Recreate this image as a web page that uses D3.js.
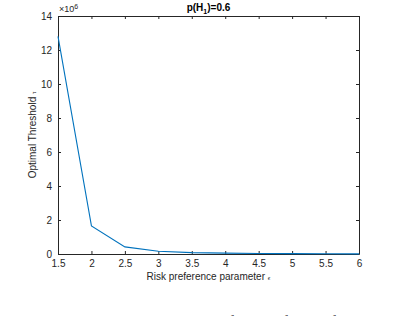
<!DOCTYPE html>
<html>
<head>
<meta charset="utf-8">
<script src="https://cdn.jsdelivr.net/npm/d3@7"></script>
<style>
  body { margin: 0; background: #fff; }
  svg { display: block; font-family: "Liberation Sans", Arial, sans-serif; }
  .axis text { font-size: 10px; fill: #262626; }
  .axis path, .axis line { stroke: #262626; }
</style>
</head>
<body>
<svg id="chart" width="394" height="316"></svg>
<script>
/* ==== Data ==== */
var riskParam = [1.5, 2, 2.5, 3, 3.5, 4, 4.5, 5, 5.5, 6];
var thresholdE6 = [12.8, 1.65, 0.42, 0.16, 0.08, 0.05, 0.03, 0.02, 0.015, 0.01];
var xTicks = [1.5, 2, 2.5, 3, 3.5, 4, 4.5, 5, 5.5, 6];
var yTicks = [0, 2, 4, 6, 8, 10, 12, 14];

/* ==== Layout ==== */
var LEFT = 58, RIGHT = 359, TOP = 16, BOTTOM = 254;
var TICK = 3;

var svg = d3.select("#chart");

var x = d3.scaleLinear().domain([1.5, 6]).range([LEFT, RIGHT]);
var y = d3.scaleLinear().domain([0, 14]).range([BOTTOM, TOP]);

// bottom axis
svg.append("g")
   .attr("class", "axis")
   .attr("transform", "translate(0," + BOTTOM + ")")
   .call(d3.axisBottom(x).tickValues(xTicks).tickSizeInner(-TICK).tickSizeOuter(0).tickPadding(6).tickFormat(d3.format("")));

// top axis (box)
svg.append("g")
   .attr("class", "axis")
   .attr("transform", "translate(0," + TOP + ")")
   .call(d3.axisTop(x).tickValues(xTicks).tickSizeInner(-TICK).tickSizeOuter(0).tickFormat(""));

// left axis
svg.append("g")
   .attr("class", "axis")
   .attr("transform", "translate(" + LEFT + ",0)")
   .call(d3.axisLeft(y).tickValues(yTicks).tickSizeInner(-TICK).tickSizeOuter(0).tickPadding(6));

// right axis (box)
svg.append("g")
   .attr("class", "axis")
   .attr("transform", "translate(" + RIGHT + ",0)")
   .call(d3.axisRight(y).tickValues(yTicks).tickSizeInner(-TICK).tickSizeOuter(0).tickFormat(""));

svg.selectAll(".axis .domain").attr("stroke-width", 1);

// exponent label
var expo = svg.append("text")
   .attr("x", LEFT + 1).attr("y", TOP - 4)
   .attr("font-size", "9px").attr("fill", "#262626");
expo.append("tspan").text("\u00d710");
expo.append("tspan").attr("dy", -3).attr("font-size", "7px").text("6");

// line
var line = d3.line()
   .x(function(d, i) { return x(riskParam[i]); })
   .y(function(d) { return y(d); });

svg.append("path")
   .datum(thresholdE6)
   .attr("d", line)
   .attr("fill", "none")
   .attr("stroke", "#0072BD")
   .attr("stroke-width", 1.1);

// title
var title = svg.append("text")
   .attr("x", (LEFT + RIGHT) / 2).attr("y", TOP - 5)
   .attr("text-anchor", "middle")
   .attr("font-size", "10px").attr("font-weight", "bold").attr("fill", "#000");
title.append("tspan").text("p(H");
title.append("tspan").attr("dy", 3).attr("font-size", "7px").text("1");
title.append("tspan").attr("dy", -3).text(")=0.6");

// x label
var xl = svg.append("text")
   .attr("x", (LEFT + RIGHT) / 2).attr("y", 280)
   .attr("text-anchor", "middle")
   .attr("font-size", "10px").attr("fill", "#262626");
xl.append("tspan").text("Risk preference parameter ");
xl.append("tspan").attr("font-size", "6px").text("\u03f5");

// y label
var yl = svg.append("text")
   .attr("transform", "translate(36," + ((TOP + BOTTOM) / 2) + ") rotate(-90)")
   .attr("text-anchor", "middle")
   .attr("font-size", "10px").attr("fill", "#262626");
yl.append("tspan").text("Optimal Threshold ");
yl.append("tspan").attr("font-size", "6px").text("\u03c4");

// caption cut off at bottom
svg.append("text")
   .attr("x", 0).attr("y", 326)
   .attr("font-family", "'Liberation Serif', serif")
   .attr("font-size", "15px").attr("fill", "#222")
   .text("Optimal threshold behavior in terms of risk preference for");
</script>
</body>
</html>
